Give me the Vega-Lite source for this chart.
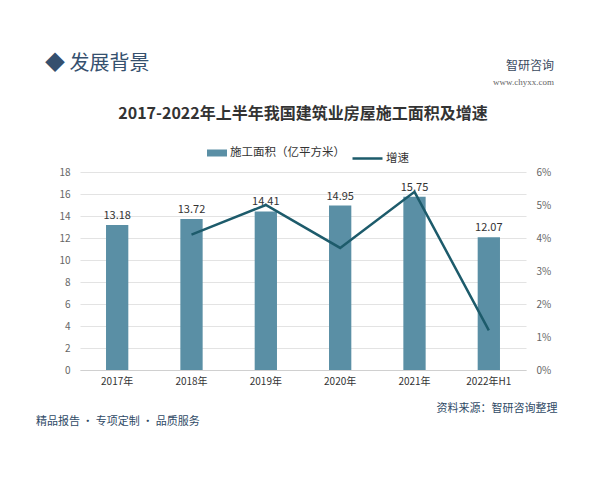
{
  "$schema": "https://vega.github.io/schema/vega-lite/v6.json",
  "padding": {"left": 35, "top": 54, "right": 20, "bottom": 10},
  "background": "white",
  "config": {
    "view": {"stroke": null},
    "font": "Noto Sans CJK SC",
    "concat": {"spacing": 0}
  },
  "title": {
    "text": "精品报告 · 专项定制 · 品质服务",
    "orient": "bottom",
    "anchor": "start",
    "fontSize": 11,
    "fontWeight": "normal",
    "color": "#2f4a66",
    "offset": 3,
    "dx": -9
  },
  "vconcat": [
    {
      "title": {
        "text": "智研咨询",
        "subtitle": "www.chyxx.com",
        "anchor": "end",
        "fontSize": 12,
        "fontWeight": "normal",
        "color": "#3a4a5e",
        "subtitleFontSize": 9,
        "subtitleColor": "#666666",
        "subtitleFont": "Liberation Serif",
        "subtitlePadding": 5,
        "offset": -34,
        "dx": -3
      },
      "vconcat": [
        {
          "title": {
            "text": "◆ 发展背景",
            "anchor": "start",
            "fontSize": 20,
            "fontWeight": "normal",
            "color": "#35506e",
            "offset": 32,
            "dx": -14
          },
          "vconcat": [
            {
              "title": {
                "text": "2017-2022年上半年我国建筑业房屋施工面积及增速",
                "fontSize": 16,
                "fontWeight": "bold",
                "color": "#333333",
                "offset": 45
              },
              "width": 446,
              "height": 198,
              "data": {
                "values": [
                  {"year": "2017年", "area": 13.18, "growth": null},
                  {"year": "2018年", "area": 13.72, "growth": 0.041},
                  {"year": "2019年", "area": 14.41, "growth": 0.050},
                  {"year": "2020年", "area": 14.95, "growth": 0.037},
                  {"year": "2021年", "area": 15.75, "growth": 0.054},
                  {"year": "2022年H1", "area": 12.07, "growth": 0.012}
                ]
              },
              "encoding": {
                "x": {
                  "field": "year",
                  "type": "ordinal",
                  "sort": null,
                  "scale": {"paddingInner": 0.7, "paddingOuter": 0.35},
                  "axis": {
                    "labelAngle": 0,
                    "ticks": false,
                    "domain": true,
                    "domainColor": "#d0d0d0",
                    "labelFontSize": 10,
                    "labelColor": "#333333",
                    "labelPadding": 6,
                    "title": "资料来源：智研咨询整理",
                    "titleFontSize": 11,
                    "titleFontWeight": "normal",
                    "titleColor": "#2f4a66",
                    "titleAlign": "right",
                    "titleAnchor": "end",
                    "titleX": 477,
                    "titleY": 41,
                    "titleBaseline": "alphabetic"
                  }
                }
              },
              "layer": [
                {
                  "mark": {"type": "bar"},
                  "encoding": {
                    "y": {
                      "field": "area",
                      "type": "quantitative",
                      "scale": {"domain": [0, 18]},
                      "axis": {
                        "values": [0, 2, 4, 6, 8, 10, 12, 14, 16, 18],
                        "title": null,
                        "ticks": false,
                        "domain": false,
                        "gridColor": "#e3e3e3",
                        "labelFontSize": 10,
                        "labelColor": "#666666",
                        "labelPadding": 10
                      }
                    },
                    "fill": {
                      "datum": "施工面积（亿平方米）",
                      "type": "nominal",
                      "scale": {"range": ["#5a8fa5"]},
                      "legend": {
                        "title": null,
                        "orient": "none",
                        "legendX": 126,
                        "legendY": -30,
                        "symbolType": "M-1,-0.35L1,-0.35L1,0.35L-1,0.35Z",
                        "symbolSize": 400,
                        "labelFontSize": 11.5,
                        "labelColor": "#333333",
                        "labelOffset": 2
                      }
                    }
                  }
                },
                {
                  "mark": {"type": "text", "dy": -9, "fontSize": 11, "color": "#333333"},
                  "encoding": {
                    "y": {"field": "area", "type": "quantitative", "scale": {"domain": [0, 18]}, "axis": null},
                    "text": {"field": "area", "type": "quantitative", "format": ".2f"}
                  }
                },
                {
                  "mark": {"type": "line", "strokeWidth": 2.5},
                  "encoding": {
                    "y": {
                      "field": "growth",
                      "type": "quantitative",
                      "scale": {"domain": [0, 0.06]},
                      "axis": {
                        "orient": "right",
                        "format": ".0%",
                        "values": [0, 0.01, 0.02, 0.03, 0.04, 0.05, 0.06],
                        "title": null,
                        "ticks": false,
                        "domain": false,
                        "grid": false,
                        "labelFontSize": 10,
                        "labelColor": "#666666",
                        "labelPadding": 10
                      }
                    },
                    "stroke": {
                      "datum": "增速",
                      "type": "nominal",
                      "scale": {"range": ["#1d5b6b"]},
                      "legend": {
                        "title": null,
                        "orient": "none",
                        "legendX": 271,
                        "legendY": -30,
                        "symbolType": "stroke",
                        "symbolSize": 900,
                        "symbolStrokeWidth": 2.5,
                        "labelFontSize": 11.5,
                        "labelColor": "#333333",
                        "labelOffset": 2
                      }
                    }
                  }
                }
              ],
              "resolve": {"scale": {"y": "independent"}}
            }
          ]
        }
      ]
    }
  ]
}
